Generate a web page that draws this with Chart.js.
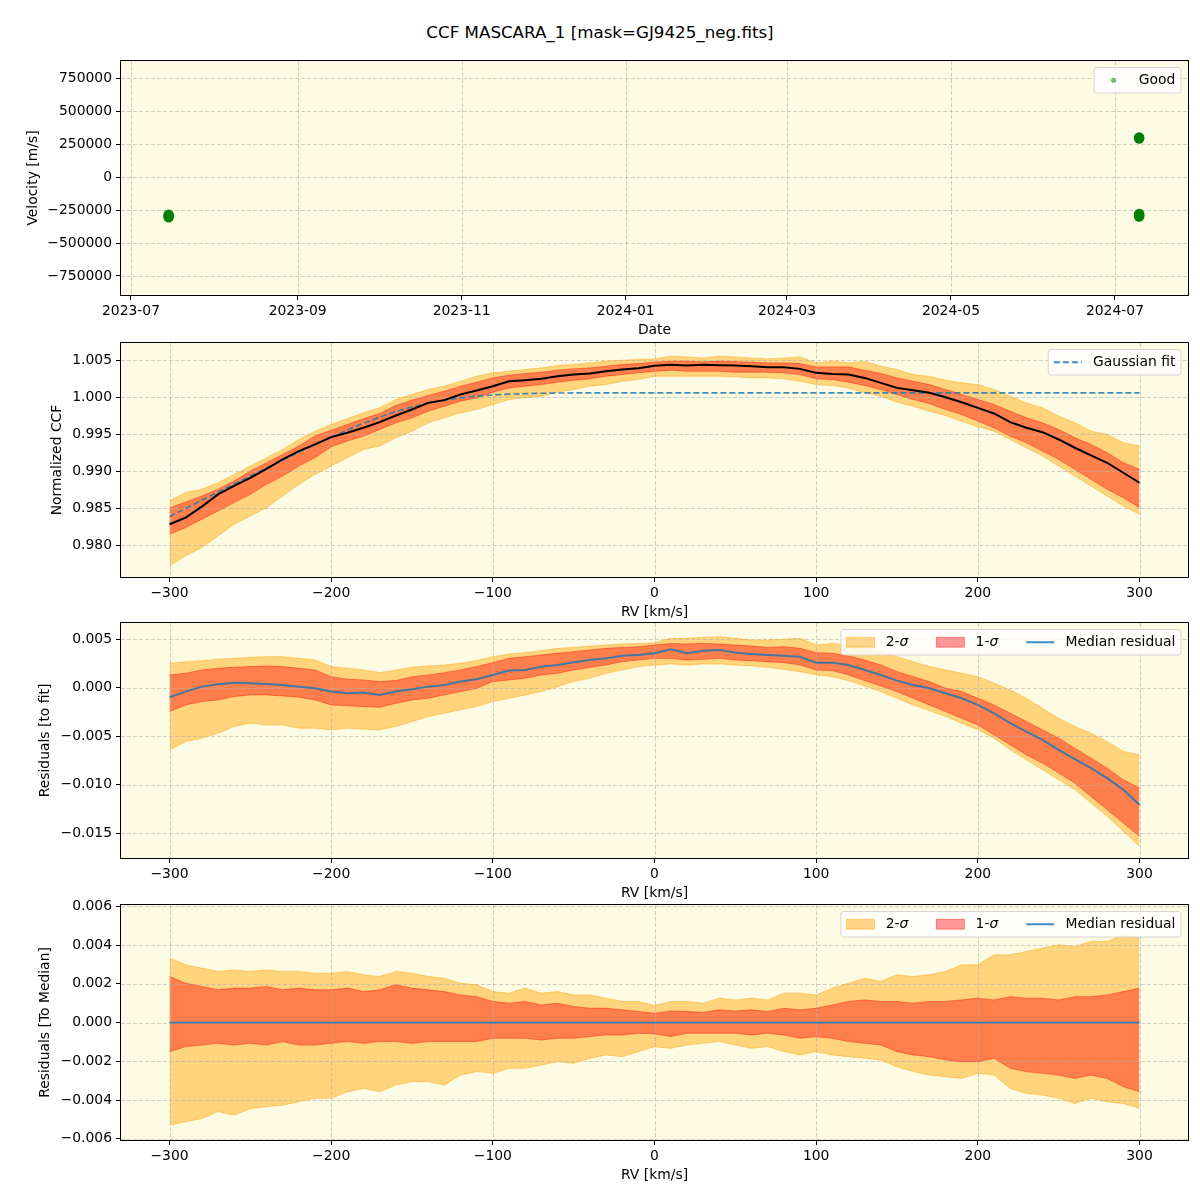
<!DOCTYPE html>
<html><head><meta charset="utf-8">
<script src="https://cdn.jsdelivr.net/npm/chart.js@4.4.0/dist/chart.umd.min.js"></script>
<style>
html,body{margin:0;padding:0;background:#fff;}
#wrap{position:relative;width:1200px;height:1200px;overflow:hidden;font-family:'DejaVu Sans',sans-serif;}
#title{position:absolute;left:0;top:22px;width:1200px;text-align:center;font-size:16.7px;line-height:20px;color:#000;}
canvas{position:absolute;left:0;}
</style></head><body>
<div id="wrap">
<div id="title">CCF MASCARA_1 [mask=GJ9425_neg.fits]</div>
<canvas id="c1" width="1200" height="299" style="top:46px"></canvas>
<canvas id="c2" width="1200" height="299" style="top:328px"></canvas>
<canvas id="c3" width="1200" height="300" style="top:608px"></canvas>
<canvas id="c4" width="1200" height="300" style="top:890px"></canvas>
</div>
<script>
// ---------------- DATA ----------------
const obsDates = ['2023-07-15','2023-07-15','2023-07-15','2024-07-10','2024-07-10','2024-07-10','2024-07-10','2024-07-10'];
const obsVelocity = [-285000,-295000,-305000,300000,292000,-280000,-290000,-299000];
const dateTickLabels = ['2023-07','2023-09','2023-11','2024-01','2024-03','2024-05','2024-07'];
const velTicks = [-750000,-500000,-250000,0,250000,500000,750000];

const rv = [-300,-290,-280,-270,-260,-250,-240,-230,-220,-210,-200,-190,-180,-170,-160,-150,-140,-130,-120,-110,-100,-90,-80,-70,-60,-50,-40,-30,-20,-10,0,10,20,30,40,50,60,70,80,90,100,110,120,130,140,150,160,170,180,190,200,210,220,230,240,250,260,270,280,290,300];
const rvTicks = [-300,-200,-100,0,100,200,300];

const ccfMedian = [0.98281,0.98371,0.9852,0.98686,0.9880,0.9891,0.99032,0.99158,0.99271,0.99361,0.9946,0.99518,0.99586,0.99662,0.99752,0.99833,0.99923,0.9996,1.00036,1.0009,1.00148,1.00216,1.0023,1.00248,1.00284,1.00306,1.0032,1.0035,1.00374,1.0039,1.00425,
 1.0044,1.00428,1.0044,1.00432,1.00428,1.0042,1.00405,1.00405,1.00383,1.00329,1.00315,1.00306,1.00261,1.00194,1.00126,1.00095,1.00059,1.0000,0.99932,0.99856,0.9978,0.99662,0.99586,0.99527,0.99428,0.99316,0.99212,0.99113,0.98978,0.98843];
const ccfFit = [0.98384,0.98495,0.98606,0.98716,0.98826,0.98935,0.99043,0.9915,0.99255,0.99358,0.99458,0.99555,0.99646,0.9973,0.99805,0.99868,0.9992,0.9996,0.99991,1.00014,1.0003,1.00041,1.00048,1.00053,1.00056,1.00058,1.00059,1.00059,1.00059,1.00059,1.00059,
 1.00059,1.00059,1.00059,1.00059,1.00059,1.00059,1.00059,1.00059,1.00059,1.00059,1.00059,1.00059,1.00059,1.00059,1.00059,1.00059,1.00059,1.00059,1.00059,1.00059,1.00059,1.00059,1.00059,1.00059,1.00059,1.00059,1.00059,1.00059,1.00059,1.00059];
const ccf2Hi = [0.9860,0.98709,0.98754,0.98844,0.98956,0.99069,0.99181,0.99294,0.99429,0.99541,0.99631,0.99707,0.99788,0.99856,0.99969,1.00036,1.00104,1.00149,1.00216,1.00284,1.00329,1.00351,1.00374,1.00396,1.00428,1.00441,1.00464,1.00486,1.005,1.00509,1.00518,
 1.00554,1.00545,1.00531,1.00554,1.00545,1.00531,1.00518,1.00531,1.00545,1.00464,1.00486,1.00464,1.00486,1.00419,1.00374,1.00306,1.00284,1.0023,1.00194,1.00171,1.00104,1.00014,0.99923,0.99856,0.99743,0.99653,0.99541,0.99496,0.99384,0.99339];
const ccf1Hi = [0.9850,0.98583,0.98664,0.98754,0.98866,0.99001,0.99114,0.99226,0.99339,0.99474,0.99554,0.99631,0.99707,0.9978,0.99888,0.9996,1.00023,1.00081,1.00149,1.00203,1.00261,1.00297,1.0032,1.00338,1.00365,1.00383,1.00396,1.00419,1.00441,1.00455,1.00473,
 1.00486,1.00486,1.00477,1.00486,1.00482,1.00473,1.00464,1.00464,1.00455,1.0041,1.0041,1.0041,1.00365,1.0032,1.00261,1.00216,1.00171,1.00104,1.00036,0.99969,0.99901,0.99811,0.99721,0.99653,0.99563,0.99451,0.99361,0.99249,0.99114,0.99024];
const ccf1Lo = [0.98146,0.98236,0.98349,0.98461,0.98574,0.98686,0.98821,0.98934,0.99069,0.99181,0.9933,0.99406,0.99474,0.99563,0.99653,0.99721,0.99811,0.99878,0.99946,0.99991,1.00068,1.00126,1.00149,1.00171,1.00203,1.0023,1.00248,1.00284,1.00306,1.00329,1.00351,
 1.00365,1.00351,1.00351,1.00351,1.00338,1.00338,1.00338,1.00329,1.00306,1.00248,1.00239,1.00203,1.00158,1.00104,1.00036,0.99969,0.99914,0.99833,0.99766,0.99676,0.99586,0.99474,0.99384,0.99271,0.99159,0.99024,0.98889,0.98754,0.98641,0.98506];
const ccf2Lo = [0.9772,0.97854,0.97966,0.98124,0.98281,0.98394,0.98506,0.98664,0.98821,0.98956,0.99069,0.99181,0.99294,0.99339,0.99451,0.99541,0.99653,0.99721,0.99788,0.99833,0.99901,0.99969,0.99991,1.00014,1.00068,1.00104,1.00149,1.00171,1.00216,1.00239,1.00284,
 1.00284,1.00284,1.00284,1.00284,1.00275,1.00261,1.00261,1.00248,1.00216,1.00171,1.00158,1.00126,1.00059,1.00014,0.99932,0.99878,0.99811,0.99752,0.99676,0.996,0.99541,0.99429,0.99316,0.99204,0.99069,0.98934,0.98799,0.98664,0.98529,0.98416];
const ccfTicks = [0.980,0.985,0.990,0.995,1.000,1.005];

const resMedian = [-0.00099,-0.00041,0.0001,0.00034,0.00051,0.00045,0.00038,0.00027,0.0001,-0.00007,-0.00041,-0.00058,-0.00051,-0.00075,-0.00041,-0.00017,0.0001,0.00027,0.00062,0.00086,0.0013,0.00175,0.00182,0.00216,0.00233,0.0026,0.00284,0.00301,0.00329,0.00336,0.00353,
 0.00394,0.00353,0.0038,0.00387,0.0036,0.00346,0.00336,0.00329,0.00318,0.00257,0.00257,0.00233,0.00182,0.0013,0.00072,0.00027,-0.00007,-0.00058,-0.0011,-0.00178,-0.00264,-0.00366,-0.00452,-0.00538,-0.0064,-0.00736,-0.00829,-0.00932,-0.01051,-0.01205];
const res2Hi = [0.0025,0.00267,0.00277,0.00291,0.00301,0.00312,0.00318,0.00318,0.00301,0.00284,0.00216,0.00199,0.00182,0.00154,0.00182,0.00209,0.00223,0.00233,0.0025,0.00277,0.00318,0.00346,0.0036,0.0038,0.00404,0.00414,0.00428,0.00438,0.00449,0.00455,0.00462,
 0.00507,0.00507,0.00517,0.00524,0.00507,0.0049,0.0049,0.00497,0.00507,0.00438,0.00455,0.00438,0.00421,0.0037,0.00318,0.00267,0.00216,0.00182,0.00147,0.00113,0.00045,-0.00024,-0.0011,-0.00212,-0.00315,-0.004,-0.00469,-0.00555,-0.00658,-0.00692];
const res1Hi = [0.0013,0.00147,0.00182,0.00199,0.00209,0.00216,0.00223,0.00216,0.00199,0.00182,0.00113,0.00086,0.00079,0.00062,0.00072,0.00113,0.0013,0.00154,0.00182,0.00216,0.00257,0.00301,0.00318,0.00336,0.00353,0.0037,0.00387,0.00404,0.00414,0.00421,0.00438,
 0.00455,0.00449,0.00455,0.00449,0.00438,0.00428,0.00414,0.00421,0.00404,0.0036,0.00353,0.00325,0.00284,0.00233,0.00164,0.00113,0.00062,-0.00007,-0.00041,-0.0011,-0.00178,-0.00264,-0.00349,-0.00435,-0.00521,-0.00623,-0.00726,-0.00829,-0.00949,-0.01034];
const res1Lo = [-0.00247,-0.00178,-0.00144,-0.00127,-0.00092,-0.00075,-0.00075,-0.00086,-0.00099,-0.00127,-0.00178,-0.00188,-0.00195,-0.00202,-0.00161,-0.00127,-0.0011,-0.00075,-0.00041,-0.00007,0.00062,0.00079,0.00096,0.0013,0.00147,0.00182,0.00209,0.00233,0.00267,0.00284,0.00301,
 0.00301,0.00284,0.00291,0.00301,0.00284,0.00277,0.00267,0.00257,0.00233,0.00182,0.00175,0.0013,0.00072,0.00017,-0.00041,-0.0011,-0.00178,-0.00247,-0.00315,-0.00384,-0.00486,-0.00589,-0.00692,-0.00777,-0.0088,-0.00983,-0.0112,-0.01257,-0.01394,-0.01531];
const res2Lo = [-0.0064,-0.00555,-0.00521,-0.00469,-0.004,-0.00366,-0.00384,-0.00384,-0.00418,-0.00418,-0.00435,-0.00418,-0.00428,-0.00435,-0.004,-0.00349,-0.00298,-0.00264,-0.00229,-0.00195,-0.00144,-0.0011,-0.00075,-0.00041,0.0001,0.00062,0.00096,0.00147,0.00182,0.00216,0.00233,
 0.00243,0.00233,0.00243,0.00243,0.00233,0.00223,0.00209,0.00188,0.00164,0.0013,0.00113,0.00072,0.00017,-0.00041,-0.0011,-0.00178,-0.00236,-0.00298,-0.00366,-0.00435,-0.00521,-0.0064,-0.00743,-0.00846,-0.00949,-0.01051,-0.01188,-0.01325,-0.01479,-0.01634];
const resTicks = [-0.015,-0.010,-0.005,0.000,0.005];

const medZero = [0,0,0,0,0,0,0,0,0,0,0,0,0,0,0,0,0,0,0,0,0,0,0,0,0,0,0,0,0,0,0,0,0,0,0,0,0,0,0,0,0,0,0,0,0,0,0,0,0,0,0,0,0,0,0,0,0,0,0,0,0];
const dev2Hi = [0.00333,0.00298,0.00281,0.00264,0.00272,0.00264,0.00272,0.00264,0.00264,0.00255,0.00255,0.00264,0.00247,0.00238,0.00264,0.00255,0.00238,0.00229,0.00203,0.00195,0.0016,0.00152,0.00178,0.00152,0.0016,0.00143,0.00143,0.00126,0.00109,0.00109,0.00087,
 0.00109,0.00109,0.001,0.00126,0.00117,0.00126,0.00117,0.00152,0.00152,0.00143,0.00178,0.00203,0.00229,0.00212,0.00247,0.00238,0.00247,0.00264,0.00298,0.00298,0.0035,0.0035,0.00367,0.00384,0.00402,0.00393,0.00419,0.00419,0.00453,0.00436];
const dev1Hi = [0.00238,0.00203,0.00186,0.00169,0.00178,0.00178,0.00186,0.00169,0.00178,0.00169,0.00169,0.00178,0.0016,0.00169,0.00195,0.00178,0.00169,0.0016,0.00143,0.00134,0.00109,0.001,0.00109,0.00091,0.001,0.00083,0.00074,0.00074,0.00066,0.00057,0.00048,
 0.0006,0.00057,0.00053,0.00066,0.0006,0.00066,0.00057,0.00074,0.00066,0.00074,0.00091,0.00109,0.00117,0.00109,0.00109,0.001,0.00109,0.00109,0.00117,0.00126,0.00117,0.00134,0.00126,0.00126,0.00117,0.00134,0.00134,0.00143,0.0016,0.00178];
const dev1Lo = [-0.0015,-0.00124,-0.00116,-0.00107,-0.00116,-0.00107,-0.00116,-0.00098,-0.00116,-0.00116,-0.00107,-0.00098,-0.00107,-0.00098,-0.00098,-0.00107,-0.00098,-0.00098,-0.00098,-0.00098,-0.00081,-0.00081,-0.00081,-0.0009,-0.00081,-0.00081,-0.00072,-0.00064,-0.00064,-0.00055,-0.00058,
 -0.00072,-0.00055,-0.00055,-0.00055,-0.00055,-0.00064,-0.00055,-0.00064,-0.00081,-0.00072,-0.00081,-0.00098,-0.00107,-0.00116,-0.0015,-0.00167,-0.00176,-0.00193,-0.00202,-0.00202,-0.00184,-0.00236,-0.00253,-0.00262,-0.00271,-0.00288,-0.00271,-0.00288,-0.00331,-0.00357];
const dev2Lo = [-0.00529,-0.00512,-0.00495,-0.0046,-0.00478,-0.00443,-0.00434,-0.00426,-0.00409,-0.00391,-0.00391,-0.00357,-0.0034,-0.00357,-0.00322,-0.00305,-0.00305,-0.00322,-0.00271,-0.00253,-0.00262,-0.00236,-0.00236,-0.00219,-0.00202,-0.0021,-0.00184,-0.00167,-0.00176,-0.0015,-0.00125,
 -0.00133,-0.00116,-0.00107,-0.00098,-0.00116,-0.00133,-0.00124,-0.0015,-0.00167,-0.0015,-0.00167,-0.00176,-0.00184,-0.00193,-0.00228,-0.00253,-0.00271,-0.00279,-0.00288,-0.00262,-0.00271,-0.0034,-0.00366,-0.00374,-0.00391,-0.00417,-0.00391,-0.00409,-0.00417,-0.00443];
const devTicks = [-0.006,-0.004,-0.002,0.000,0.002,0.004,0.006];

// ---------------- STYLE ----------------
const FS = 13.9;
const FAMILY = "'DejaVu Sans', sans-serif";
Chart.defaults.font.family = FAMILY;
Chart.defaults.font.size = FS;
Chart.defaults.color = '#000';
const BG = '#FDFBE3';
const C2 = 'rgba(255,165,0,0.45)';
const C1 = 'rgba(255,0,0,0.4)';
const BLUE = 'rgba(31,119,180,0.85)';

function minusFmt(s, v){ return (v < -1e-12 ? '\u2212' : '') + s; }
const intFmt = v => minusFmt(String(Math.round(Math.abs(v))), v);
const dec3 = v => minusFmt(Math.abs(v).toFixed(3), v);
const dateFmt = v => { const d = new Date(v); return d.getUTCFullYear() + '-' + String(d.getUTCMonth()+1).padStart(2,'0'); };
const pts = arr => rv.map((x,i) => ({x:x, y:arr[i]}));

const gridOpts = {drawOnChartArea:false, drawTicks:true, tickLength:5, tickColor:'#000', tickWidth:1, tickBorderDash:[]};

function axisX(min, max, ticks, fmt, title){
  return {type:'linear', min, max,
    afterBuildTicks: s => { s.ticks = ticks.map(v => ({value:v})); },
    afterFit: s => { s.height = 50; },
    ticks:{callback: v => fmt(v), padding:3, maxRotation:0, autoSkip:false, color:'#000', font:{size:FS}},
    grid: gridOpts, border:{display:false},
    title:{display:true, text:title, color:'#000', font:{size:FS}, padding:{top:0, bottom:6.6}}
  };
}
function axisY(min, max, ticks, fmt, title, titleX){
  return {type:'linear', min, max,
    afterBuildTicks: s => { s.ticks = ticks.map(v => ({value:v})); },
    afterFit: s => { s.width = 121; },
    ticks:{callback: v => fmt(v), padding:4, autoSkip:false, color:'#000', font:{size:FS}},
    grid: gridOpts, border:{display:false},
    title:{display:true, text:title, color:'#000', font:{size:FS}, padding:{top: titleX - FS*0.6, bottom:0}}
  };
}

function measureParts(ctx, parts){
  let w = 0;
  for (const p of parts){ ctx.font = (p.it ? 'italic ' : '') + FS + 'px ' + FAMILY; w += ctx.measureText(p.t).width; }
  return w;
}
function drawLegend(chart, items){
  const ctx = chart.ctx, a = chart.chartArea;
  const pad = 5.6, hl = 28, htp = 11.2, colsp = 28, h = 25.5;
  ctx.save();
  const widths = items.map(it => measureParts(ctx, it.parts));
  let w = pad*2 + colsp*(items.length-1);
  widths.forEach(x => w += hl + htp + x);
  const x0 = a.right - 7 - w, y0 = a.top + 6.5;
  ctx.beginPath();
  ctx.roundRect(x0, y0, w, h, 3);
  ctx.fillStyle = 'rgba(255,255,255,0.8)'; ctx.fill();
  ctx.strokeStyle = 'rgba(204,204,204,0.8)'; ctx.lineWidth = 1; ctx.stroke();
  const cy = y0 + h/2;
  let x = x0 + pad;
  items.forEach((it, i) => {
    if (it.type === 'dot'){
      ctx.beginPath(); ctx.arc(x + hl/2, cy, 2.6, 0, Math.PI*2); ctx.fillStyle = it.color; ctx.fill();
    } else if (it.type === 'patch'){
      ctx.fillStyle = it.color; ctx.fillRect(x, cy - 4.9, hl, 9.8);
      ctx.strokeStyle = it.color; ctx.lineWidth = 1; ctx.strokeRect(x, cy - 4.9, hl, 9.8);
    } else {
      ctx.beginPath(); ctx.moveTo(x, cy); ctx.lineTo(x + hl, cy);
      ctx.strokeStyle = it.color; ctx.lineWidth = 2; ctx.setLineDash(it.dash || []); ctx.stroke(); ctx.setLineDash([]);
    }
    let tx = x + hl + htp;
    ctx.fillStyle = '#000'; ctx.textBaseline = 'middle'; ctx.textAlign = 'left';
    for (const p of it.parts){
      ctx.font = (p.it ? 'italic ' : '') + FS + 'px ' + FAMILY;
      ctx.fillText(p.t, tx, cy + 0.5); tx += ctx.measureText(p.t).width;
    }
    x += hl + htp + widths[i] + colsp;
  });
  ctx.restore();
}

const framePlugin = {
  id: 'frame',
  beforeDraw(chart){
    const a = chart.chartArea, ctx = chart.ctx;
    ctx.save(); ctx.fillStyle = BG; ctx.fillRect(a.left, a.top, a.right - a.left, a.bottom - a.top); ctx.restore();
  },
  beforeDatasetsDraw(chart){
    const a = chart.chartArea, ctx = chart.ctx;
    ctx.save();
    ctx.beginPath(); ctx.rect(a.left, a.top, a.right - a.left, a.bottom - a.top); ctx.clip();
    ctx.strokeStyle = 'rgba(176,176,176,0.6)'; ctx.lineWidth = 1; ctx.setLineDash([4, 2]);
    const xs = chart.scales.x, ys = chart.scales.y;
    xs.ticks.forEach(t => { const p = Math.round(xs.getPixelForValue(t.value)) + 0.5; ctx.beginPath(); ctx.moveTo(p, a.top); ctx.lineTo(p, a.bottom); ctx.stroke(); });
    ys.ticks.forEach(t => { const p = Math.round(ys.getPixelForValue(t.value)) + 0.5; ctx.beginPath(); ctx.moveTo(a.left, p); ctx.lineTo(a.right, p); ctx.stroke(); });
    ctx.restore();
  },
  afterDraw(chart, args, opts){
    const a = chart.chartArea, ctx = chart.ctx;
    ctx.save(); ctx.strokeStyle = '#000'; ctx.lineWidth = 1;
    ctx.strokeRect(Math.round(a.left) - 0.5, Math.round(a.top) - 0.5, Math.round(a.right - a.left) + 1, Math.round(a.bottom - a.top) + 1);
    ctx.restore();
    if (opts && opts.legend) drawLegend(chart, opts.legend);
  }
};

function baseOptions(xAxis, yAxis, legend){
  return {responsive:false, animation:false, events:[],
    layout:{padding:{top:15, right:12, left:0, bottom:0}},
    plugins:{legend:{display:false}, tooltip:{enabled:false}, filler:{drawTime:'beforeDatasetsDraw', propagate:false}, frame:{legend}},
    scales:{x:xAxis, y:yAxis},
    elements:{point:{radius:0, hoverRadius:0}, line:{tension:0}}
  };
}
function bandSets(hi1, lo1, hi2, lo2, base){
  return [
    {data:pts(hi1), borderColor:C1, backgroundColor:C1, borderWidth:1, fill:base+1},
    {data:pts(lo1), borderColor:C1, borderWidth:1, fill:false},
    {data:pts(hi2), borderColor:C2, backgroundColor:C2, borderWidth:1, fill:base+3},
    {data:pts(lo2), borderColor:C2, borderWidth:1, fill:false}
  ];
}
const sigmaLegend = [
  {type:'patch', color:C2, parts:[{t:'2-'},{t:'\u03c3', it:true}]},
  {type:'patch', color:C1, parts:[{t:'1-'},{t:'\u03c3', it:true}]},
  {type:'line', color:BLUE, parts:[{t:'Median residual'}]}
];

// Panel 1
const obsTimes = obsDates.map(d => Date.parse(d + 'T00:00:00Z'));
new Chart(document.getElementById('c1'), {
  type:'scatter',
  data:{datasets:[{data: obsTimes.map((t,i) => ({x:t, y:obsVelocity[i]})), pointRadius:5.2, backgroundColor:'#008000', borderWidth:0, pointBorderWidth:0}]},
  options: baseOptions(
    axisX(Date.parse('2023-06-27T07:00:00Z'), Date.parse('2024-07-28T04:00:00Z'), dateTickLabels.map(s => Date.parse(s + '-01T00:00:00Z')), dateFmt, 'Date'),
    axisY(-894000, 879000, velTicks, intFmt, 'Velocity [m/s]', 33),
    [{type:'dot', color:'rgba(0,128,0,0.55)', parts:[{t:'Good'}]}]
  ),
  plugins:[framePlugin]
});

// Panel 2
new Chart(document.getElementById('c2'), {
  type:'line',
  data:{datasets:[
    {data:pts(ccfMedian), borderColor:'#000', borderWidth:2, fill:false},
    {data:pts(ccfFit), borderColor:BLUE, borderWidth:1.6, borderDash:[6,3], fill:false}
  ].concat(bandSets(ccf1Hi, ccf1Lo, ccf2Hi, ccf2Lo, 2))},
  options: baseOptions(
    axisX(-330, 330, rvTicks, intFmt, 'RV [km/s]'),
    axisY(0.97568, 1.00733, ccfTicks, dec3, 'Normalized CCF', 57),
    [{type:'line', color:BLUE, dash:[6,3], parts:[{t:'Gaussian fit'}]}]
  ),
  plugins:[framePlugin]
});

// Panel 3
new Chart(document.getElementById('c3'), {
  type:'line',
  data:{datasets:[
    {data:pts(resMedian), borderColor:BLUE, borderWidth:2, fill:false}
  ].concat(bandSets(res1Hi, res1Lo, res2Hi, res2Lo, 1))},
  options: baseOptions(
    axisX(-330, 330, rvTicks, intFmt, 'RV [km/s]'),
    axisY(-0.01754, 0.00665, resTicks, dec3, 'Residuals [to fit]', 45),
    sigmaLegend
  ),
  plugins:[framePlugin]
});

// Panel 4
new Chart(document.getElementById('c4'), {
  type:'line',
  data:{datasets:[
    {data:pts(medZero), borderColor:BLUE, borderWidth:1.6, fill:false}
  ].concat(bandSets(dev1Hi, dev1Lo, dev2Hi, dev2Lo, 1))},
  options: baseOptions(
    axisX(-330, 330, rvTicks, intFmt, 'RV [km/s]'),
    axisY(-0.00606, 0.00607, devTicks, dec3, 'Residuals [To Median]', 45),
    sigmaLegend
  ),
  plugins:[framePlugin]
});
</script>
</body></html>
